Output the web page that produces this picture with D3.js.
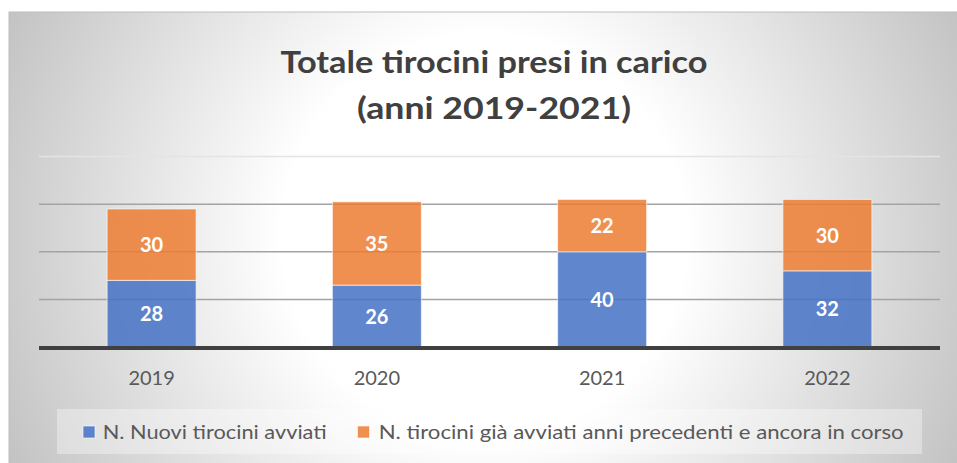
<!DOCTYPE html>
<html>
<head>
<meta charset="UTF-8">
<title>Totale tirocini presi in carico</title>
<script src="https://d3js.org/d3.v7.min.js"></script>
<style>
  body { margin: 0; background: #fff; }
  svg text { font-family: Lato, "Open Sans", sans-serif; }
</style>
</head>
<body>
<svg id="chart" width="957" height="463"></svg>
<script>
// data
const years = ["2019", "2020", "2021", "2022"];
const nuovi = [28, 26, 40, 32];
const giaAvviati = [30, 35, 22, 30];
const seriesNames = ["N. Nuovi tirocini avviati", "N. tirocini già avviati anni precedenti e ancora in corso"];
const gridTicks = [20, 40, 60, 80];
const titleLines = ["Totale tirocini presi in carico", "(anni 2019-2021)"];

const colors = ["#4472C4", "#ED7D31"];

const svg = d3.select("#chart");

// background with a radial grey gradient
const defs = svg.append("defs");
const grad = defs.append("radialGradient")
    .attr("id", "bg")
    .attr("gradientUnits", "userSpaceOnUse")
    .attr("cx", 484).attr("cy", 236).attr("r", 530);
grad.append("stop").attr("offset", "0").attr("stop-color", "#ffffff");
grad.append("stop").attr("offset", "0.38").attr("stop-color", "#ffffff");
grad.append("stop").attr("offset", "1").attr("stop-color", "#c2c2c2");

svg.append("rect")
    .attr("x", 9).attr("y", 12)
    .attr("width", 957).attr("height", 460)
    .attr("fill", "url(#bg)")
    .attr("stroke", "#bdbdbd").attr("stroke-width", 1);

// title
svg.append("g").selectAll("text").data(titleLines).enter()
    .append("text")
    .attr("x", 494)
    .attr("y", (d, i) => 73 + i * 46)
    .attr("text-anchor", "middle")
    .attr("font-size", 30)
    .attr("font-weight", "bold")
    .attr("fill", "#404040")
    .attr("textLength", (d, i) => i == 0 ? 427 : 274)
    .attr("lengthAdjust", "spacingAndGlyphs")
    .text(d => d);

// scales
const x = d3.scaleBand().domain(years).range([39, 940]).paddingInner(0.605).paddingOuter(0.3025);
const y = d3.scaleLinear().domain([0, 80]).range([347, 156.6]);

// gridlines
svg.append("g").selectAll("line").data(gridTicks).enter()
    .append("line")
    .attr("x1", 39).attr("x2", 940)
    .attr("y1", d => y(d)).attr("y2", d => y(d))
    .attr("stroke", d => d == 80 ? "#e4e4e4" : "#a3a3a3")
    .attr("stroke-width", 1.5);

// stacked bars
const rows = years.map((yr, i) => ({ year: yr, nuovi: nuovi[i], gia: giaAvviati[i] }));
const stacked = d3.stack().keys(["nuovi", "gia"])(rows);

const layers = svg.append("g").selectAll("g").data(stacked).enter()
    .append("g")
    .attr("fill", (d, i) => colors[i]);

layers.selectAll("rect").data(d => d).enter()
    .append("rect")
    .attr("x", d => x(d.data.year))
    .attr("width", x.bandwidth())
    .attr("y", d => y(d[1]))
    .attr("height", d => y(d[0]) - y(d[1]))
    .attr("fill-opacity", 0.85)
    .attr("stroke", "#ffffff")
    .attr("stroke-opacity", 0.6)
    .attr("stroke-width", 1);

layers.selectAll("text").data(d => d).enter()
    .append("text")
    .attr("x", d => x(d.data.year) + x.bandwidth() / 2)
    .attr("y", d => (y(d[0]) + y(d[1])) / 2 + 7.5)
    .attr("text-anchor", "middle")
    .attr("font-size", 20)
    .attr("font-weight", "bold")
    .attr("fill", "#ffffff")
    .text(d => d[1] - d[0]);

// baseline axis
svg.append("line")
    .attr("x1", 39).attr("x2", 940)
    .attr("y1", 348).attr("y2", 348)
    .attr("stroke", "#404040")
    .attr("stroke-width", 4);

// category labels
svg.append("g").selectAll("text").data(years).enter()
    .append("text")
    .attr("x", d => x(d) + x.bandwidth() / 2)
    .attr("y", 385)
    .attr("text-anchor", "middle")
    .attr("font-size", 20)
    .attr("fill", "#595959")
    .text(d => d);

// legend
svg.append("rect")
    .attr("x", 57).attr("y", 409)
    .attr("width", 865).attr("height", 45)
    .attr("fill", "#ffffff").attr("fill-opacity", 0.35);

const legendX = [83, 357.5];
const legendTextX = [102.7, 378.7];
const legendLen = [224, 525];
const leg = svg.append("g").selectAll("g").data(seriesNames).enter().append("g");
leg.append("rect")
    .attr("x", (d, i) => legendX[i]).attr("y", 426)
    .attr("width", 12).attr("height", 12)
    .attr("fill", (d, i) => colors[i])
    .attr("fill-opacity", 0.85)
    .attr("stroke", "#ffffff").attr("stroke-opacity", 0.6);
leg.append("text")
    .attr("x", (d, i) => legendTextX[i])
    .attr("y", 438.5)
    .attr("font-size", 20)
    .attr("fill", "#595959")
    .attr("textLength", (d, i) => legendLen[i])
    .attr("lengthAdjust", "spacingAndGlyphs")
    .text(d => d);
</script>
</body>
</html>
